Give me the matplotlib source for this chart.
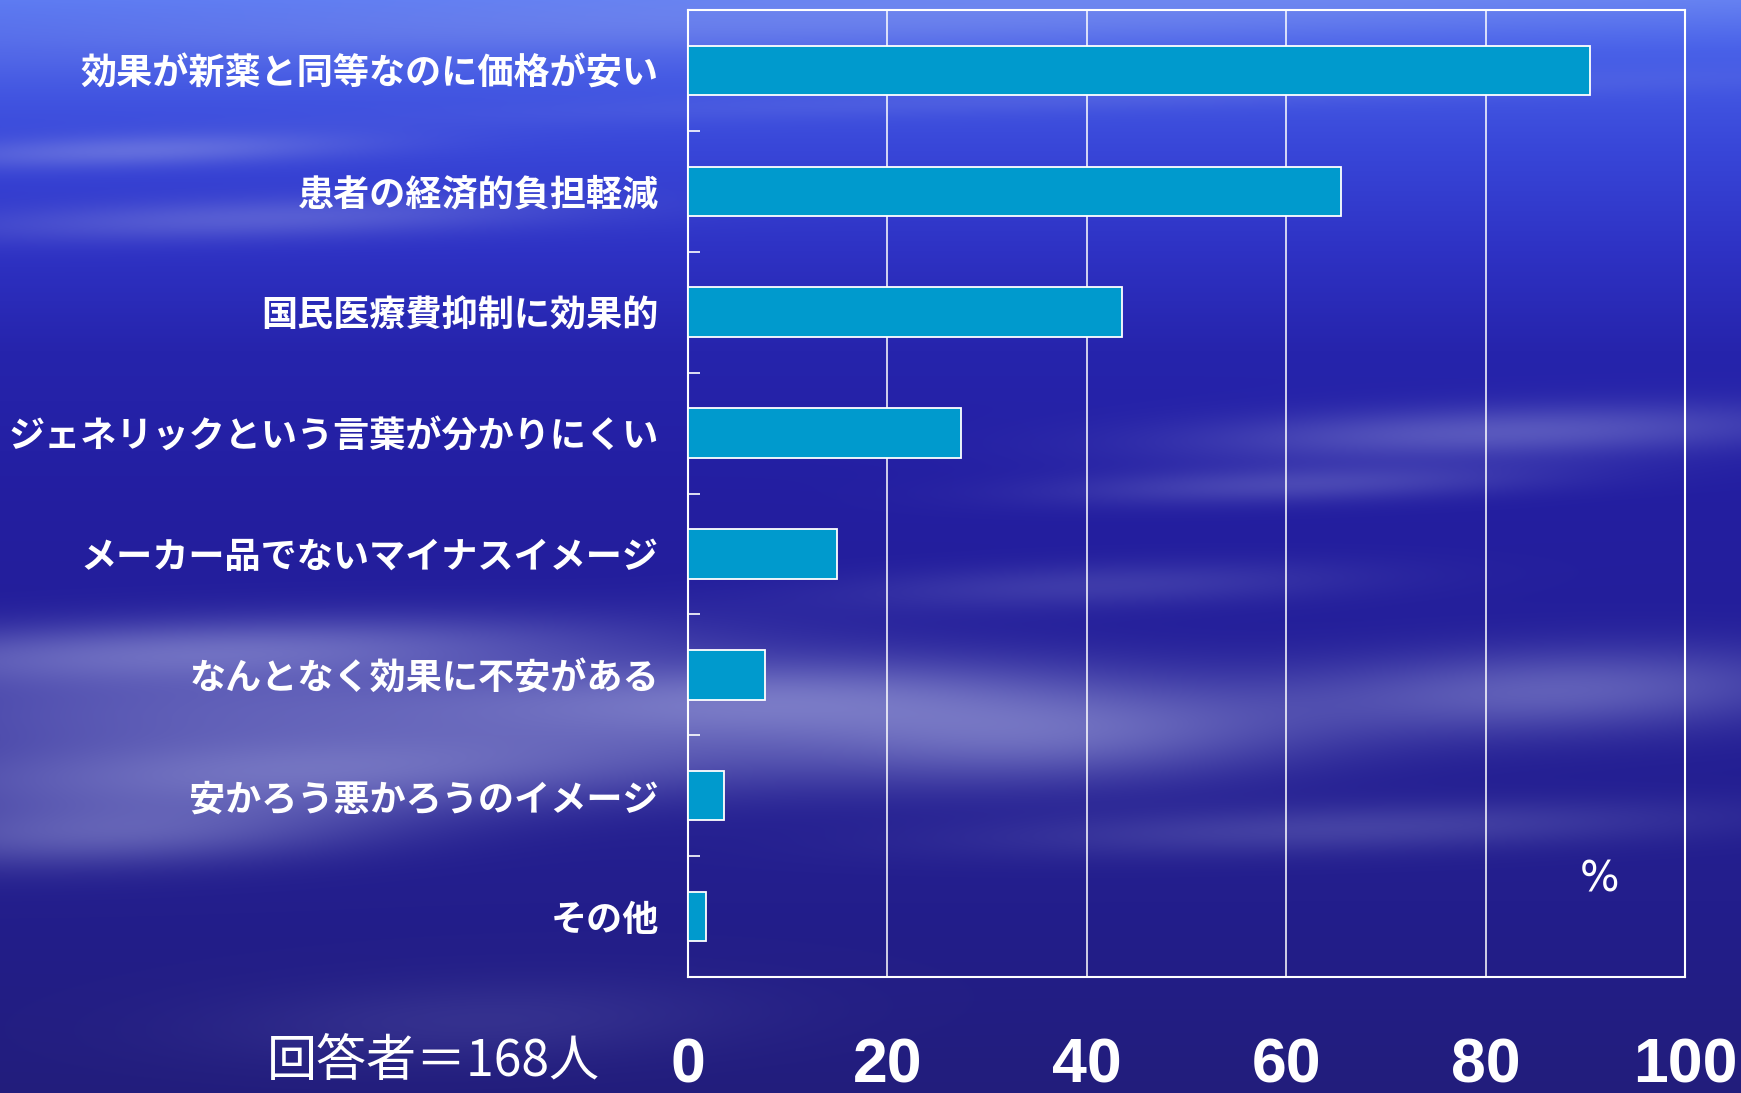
import numpy as np
import matplotlib
matplotlib.use("Agg")
import matplotlib.pyplot as plt
from matplotlib.ticker import FixedLocator

# ---- data -------------------------------------------------------------
categories = [
    "効果が新薬と同等なのに価格が安い",
    "患者の経済的負担軽減",
    "国民医療費抑制に効果的",
    "ジェネリックという言葉が分かりにくい",
    "メーカー品でないマイナスイメージ",
    "なんとなく効果に不安がある",
    "安かろう悪かろうのイメージ",
    "その他",
]
percent = [90.5, 65.5, 43.5, 27.4, 14.9, 7.7, 3.6, 1.8]
x_ticks = [0, 20, 40, 60, 80, 100]
x_tick_labels = ["0", "20", "40", "60", "80", "100"]
respondents_note = "回答者＝168人"
unit_label = "%"

# ---- figure -----------------------------------------------------------
W, H = 1741, 1093
fig = plt.figure(figsize=(W / 100, H / 100), dpi=100)

# sky-like backdrop: vertical blue gradient with soft cloud patches
yy, xx = np.mgrid[0:H, 0:W].astype(float)
stops_y = [0, 50, 150, 250, 350, 500, 900, 1093]
stops_c = np.array([
    [92, 122, 242],
    [72, 96, 232],
    [56, 70, 216],
    [46, 50, 196],
    [38, 36, 172],
    [35, 30, 160],
    [35, 30, 140],
    [34, 29, 124],
], dtype=float)
base = np.stack([np.interp(yy[:, 0], stops_y, stops_c[:, k]) for k in range(3)], axis=1)
img = np.repeat(base[:, None, :], W, axis=1)

clouds = [
    # cx, cy, sx, sy, strength
    (870, 18, 1000, 35, 0.22),
    (1150, 95, 650, 14, 0.12),
    (140, 150, 220, 16, 0.33),
    (260, 218, 300, 20, 0.28),
    (1500, 432, 300, 26, 0.35),
    (1300, 484, 240, 18, 0.25),
    (1100, 585, 260, 22, 0.18),
    (200, 650, 400, 32, 0.45),
    (260, 705, 500, 42, 0.35),
    (300, 772, 450, 42, 0.50),
    (110, 835, 260, 32, 0.35),
    (780, 700, 300, 42, 0.38),
    (1060, 735, 260, 48, 0.42),
    (1560, 690, 260, 42, 0.40),
    (1350, 828, 360, 24, 0.22),
    (480, 1020, 260, 40, 0.12),
]
alpha = np.zeros((H, W))
for cx, cy, sx, sy, a in clouds:
    tilt = (xx - cx) * 0.03
    alpha += a * np.exp(-((xx - cx) / sx) ** 2 - ((yy - cy + tilt) / sy) ** 2)
alpha = np.clip(alpha, 0, 0.62)[..., None]
cloud_rgb = np.array([185, 190, 234], dtype=float)
img = img * (1 - alpha) + cloud_rgb * alpha

bg = fig.add_axes([0, 0, 1, 1], zorder=-10)
bg.imshow(img.astype(np.uint8), aspect="auto", interpolation="bilinear")
bg.set_axis_off()

# ---- chart ------------------------------------------------------------
left, right, top, bottom = 688, 1685, 10, 977
ax = fig.add_axes([left / W, 1 - bottom / H, (right - left) / W, (bottom - top) / H])
ax.set_facecolor("none")

y = np.arange(len(categories))
ax.barh(y, percent, height=0.41, color="#009acd", edgecolor="white",
        linewidth=1.3, zorder=3)

ax.set_xlim(0, 100)
ax.set_ylim(len(categories) - 0.5, -0.5)

for s in ax.spines.values():
    s.set_color("white")
    s.set_linewidth(1.5)

ax.set_xticks(x_ticks)
ax.set_xticklabels(x_tick_labels)
ax.xaxis.grid(True, color="white", linewidth=1.1, zorder=1)
ax.set_axisbelow(True)
ax.tick_params(axis="x", length=0, pad=43, labelsize=45, labelcolor="white")
for t in ax.get_xticklabels():
    t.set_fontfamily("Liberation Sans")
    t.set_fontweight("bold")

ax.set_yticks(y)
ax.set_yticklabels(categories)
ax.tick_params(axis="y", which="major", length=0, pad=21, labelsize=26,
               labelcolor="white")
ax.yaxis.set_minor_locator(FixedLocator(np.arange(0.5, len(categories) - 0.5, 1.0)))
ax.tick_params(axis="y", which="minor", direction="in", length=8.5,
               width=1.2, color="white")
for t in ax.get_yticklabels():
    t.set_fontfamily(["Noto Sans CJK JP", "DejaVu Sans"])
    t.set_fontweight("bold")

ax.text(91.4, 6.69, unit_label, color="white", fontsize=30,
        fontfamily="DejaVu Sans", ha="center", va="center")

fig.text(433 / W, 1 - 1062 / H, respondents_note, color="white", fontsize=36,
         fontfamily=["Noto Sans CJK JP", "DejaVu Sans"], ha="center", va="center")

fig.savefig("out.png", dpi=100)
